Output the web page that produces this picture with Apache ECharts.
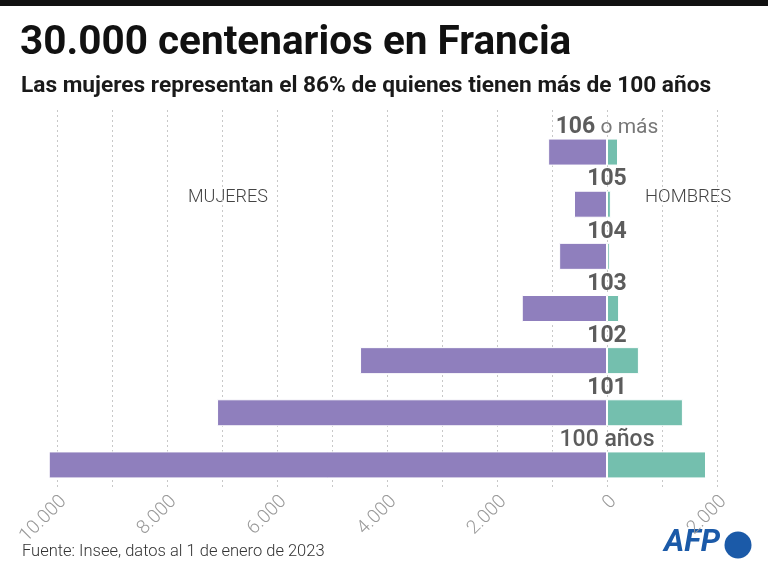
<!DOCTYPE html>
<html>
<head>
<meta charset="utf-8">
<script src="https://cdn.jsdelivr.net/npm/echarts@6/dist/echarts.min.js"></script>
<style>
  html, body {margin: 0; padding: 0; background: #fff;}
  #chart {width: 768px; height: 572px;}
</style>
</head>
<body>
<div id="chart"></div>
<script>
const FONT = '"Liberation Sans Narrow", Roboto, "Noto Sans", sans-serif';

// edades (de abajo hacia arriba)
const ages = ['100', '101', '102', '103', '104', '105', '106'];
const ageLabels = ['100 años', '101', '102', '103', '104', '105', '106'];
// valores
const mujeres = [10150, 7090, 4490, 1550, 870, 600, 1070];
const hombres = [1800, 1380, 580, 220, 50, 70, 200];
const tickLabels = [-10000, -8000, -6000, -4000, -2000, 0, 2000];

const X_MIN = -11000;
const X_MAX = 3000;

const fmt = v => Math.abs(v).toString().replace(/\B(?=(\d{3})+(?!\d))/g, '.');

// líneas de rejilla: la primera y la última invisibles
const gridColors = [];
for (let v = X_MIN; v <= X_MAX; v += 1000) {
  gridColors.push(v === X_MIN || v === X_MAX ? 'rgba(0,0,0,0)' : '#c8c8c8');
}

const chart = echarts.init(document.getElementById('chart'));

const option = {
  animation: false,
  backgroundColor: '#fff',
  title: [{
    text: '30.000 centenarios en Francia',
    left: 15, top: 18,
    textStyle: {fontFamily: FONT, fontSize: 40.5, fontWeight: 'bold', color: '#111'}
  }, {
    text: 'Las mujeres representan el 86% de quienes tienen más de 100 años',
    left: 16, top: 70,
    textStyle: {fontFamily: FONT, fontSize: 22.7, fontWeight: 'bold', color: '#1a1a1a'}
  }, {
    text: 'Fuente: Insee, datos al 1 de enero de 2023',
    left: 17, top: 538,
    textStyle: {fontFamily: FONT, fontSize: 16.5, fontWeight: 300, color: '#333'}
  }],
  grid: [
    {left: 2, width: 770, top: 110, bottom: 84, outerBoundsMode: 'none'},
    {left: 2, width: 770, top: 126, height: 365, outerBoundsMode: 'none'}
  ],
  xAxis: [{
    gridIndex: 0,
    type: 'value', min: X_MIN, max: X_MAX, interval: 1000,
    axisLine: {show: false},
    axisTick: {show: false},
    splitLine: {show: true, lineStyle: {type: [2, 3], color: gridColors, width: 1}},
    axisLabel: {
      rotate: 45, margin: 4, verticalAlign: 'top',
      color: '#9a9a9a', fontFamily: FONT, fontSize: 19, fontWeight: 300,
      formatter: v => tickLabels.indexOf(v) >= 0 ? fmt(v) : ''
    }
  }, {
    gridIndex: 1,
    type: 'value', min: X_MIN, max: X_MAX,
    show: false
  }],
  yAxis: [{
    gridIndex: 0, type: 'category', data: ages, show: false
  }, {
    gridIndex: 1, type: 'category', data: ages, show: false
  }],
  series: [{
    name: 'Mujeres', type: 'bar',
    xAxisIndex: 1, yAxisIndex: 1,
    data: mujeres.map(v => -v),
    barWidth: 27, barGap: '-100%',
    itemStyle: {color: '#8f7fbd', borderColor: '#fff', borderWidth: 1}
  }, {
    name: 'Hombres', type: 'bar',
    xAxisIndex: 1, yAxisIndex: 1,
    data: hombres,
    barWidth: 27,
    itemStyle: {color: '#74bfae', borderColor: '#fff', borderWidth: 1}
  }, {
    name: 'edad', type: 'scatter',
    xAxisIndex: 1, yAxisIndex: 1,
    symbolSize: 0,
    data: ages.map((a, i) => [0, a]),
    label: {
      show: true, position: 'top', distance: 13,
      formatter: p => {
        const i = p.dataIndex;
        if (i === 0) return '{m|' + ageLabels[0] + '}';
        if (i === ages.length - 1) return '{b|' + ageLabels[i] + '}{r| o más}';
        return '{b|' + ageLabels[i] + '}';
      },
      rich: {
        b: {fontFamily: FONT, fontSize: 23, fontWeight: 'bold', color: '#333'},
        m: {fontFamily: FONT, fontSize: 23, fontWeight: 500, color: '#333'},
        r: {fontFamily: FONT, fontSize: 21, fontWeight: 'normal', color: '#555'}
      }
    },
    z: 5
  }],
  graphic: [{
    type: 'rect', left: 0, top: 0,
    shape: {width: 768, height: 6},
    style: {fill: '#111'}
  }, {
    type: 'text', left: 188, top: 188,
    style: {text: 'MUJERES', fontFamily: FONT, fontSize: 18, fontWeight: 300, fill: '#444'}
  }, {
    type: 'text', left: 645, top: 188,
    style: {text: 'HOMBRES', fontFamily: FONT, fontSize: 18.5, fontWeight: 300, fill: '#444'}
  }, {
    type: 'text', left: 664, top: 528,
    style: {text: 'AFP', fontFamily: FONT, fontSize: 31, fontWeight: 'bold', fontStyle: 'italic', fill: '#1b5aa8'}
  }, {
    type: 'circle', shape: {cx: 738, cy: 545, r: 13.5},
    style: {fill: '#1b5aa8'}
  }]
};

chart.setOption(option);
</script>
</body>
</html>
